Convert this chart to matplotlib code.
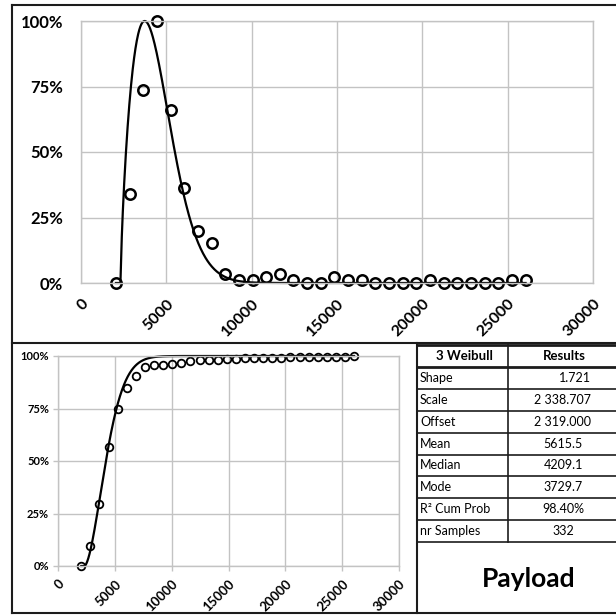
import numpy as np
import matplotlib.pyplot as plt
from matplotlib.lines import Line2D
from matplotlib.ticker import PercentFormatter

W, H = 616, 615
plt.rcParams['font.family'] = ['Lato', 'DejaVu Sans']

# 3-parameter Weibull fit
SHAPE = 1.721
SCALE = 2338.707
OFFSET = 2319.0

bins = [2050, 2850, 3650, 4450, 5250, 6050, 6850, 7650, 8450, 9250,
        10050, 10850, 11650, 12450, 13250, 14050, 14850, 15650, 16450, 17250,
        18050, 18850, 19650, 20450, 21250, 22050, 22850, 23650, 24450, 25250,
        26050]
# frequency relative to the largest bin (%)
freq = [0, 34.1, 73.6, 100, 65.9, 36.3, 19.8, 15.4, 3.3, 1.1,
        1.1, 2.2, 3.3, 1.1, 0, 0, 2.2, 1.1, 1.1, 0,
        0, 0, 0, 1.1, 0, 0, 0, 0, 0, 1.1,
        1.1]
# cumulative probability (%)
cum = [0, 9.3, 29.5, 56.9, 75.0, 84.9, 90.4, 94.6, 95.5, 95.8,
       96.1, 96.7, 97.6, 97.9, 97.9, 97.9, 98.5, 98.8, 99.1, 99.1,
       99.1, 99.1, 99.1, 99.4, 99.4, 99.4, 99.4, 99.4, 99.4, 99.7,
       100]

xticks = [0, 5000, 10000, 15000, 20000, 25000, 30000]
yticks = [0, 25, 50, 75, 100]

stat_names = ["Shape", "Scale", "Offset", "Mean", "Median", "Mode",
              "R² Cum Prob", "nr Samples"]
stat_values = [f"{SHAPE:.3f}", f"{SCALE:,.3f}".replace(",", " "),
               f"{OFFSET:,.3f}".replace(",", " "), "5615.5", "4209.1",
               "3729.7", "98.40%", "332"]

GRID = '#c3c3c3'
INK = '#1c1c1c'


def px(x, y):
    return x / W, 1 - y / H


def weibull(x):
    z = np.clip((x - OFFSET) / SCALE, 0, None)
    pdf = z ** (SHAPE - 1) * np.exp(-z ** SHAPE)
    zm = ((SHAPE - 1) / SHAPE) ** (1 / SHAPE)
    peak = zm ** (SHAPE - 1) * np.exp(-zm ** SHAPE)
    return 100 * pdf / peak, 100 * (1 - np.exp(-z ** SHAPE))


def style_axes(ax, xsize, ysize, ticklen, xpad, ypad):
    ax.set_xlim(0, 30000)
    ax.set_ylim(0, 100)
    ax.set_xticks(xticks)
    ax.set_yticks(yticks)
    ax.yaxis.set_major_formatter(PercentFormatter(decimals=0))
    ax.grid(True, color=GRID, linewidth=1.0)
    ax.set_axisbelow(True)
    for s in ax.spines.values():
        s.set_color(GRID)
        s.set_linewidth(1.0)
    ax.tick_params(axis='both', length=ticklen, color=GRID, width=1.0)
    ax.tick_params(axis='x', pad=xpad, labelsize=xsize)
    ax.tick_params(axis='y', pad=ypad, labelsize=ysize)
    for lab in ax.get_xticklabels():
        lab.set_rotation(45)
        lab.set_ha('right')
        lab.set_rotation_mode('anchor')
        lab.set_fontweight('bold')
    for lab in ax.get_yticklabels():
        lab.set_fontweight('bold')


def hline(y, x0, x1, lw):
    a, b = px(x0, y), px(x1, y)
    fig.add_artist(Line2D([a[0], b[0]], [a[1], b[1]], color=INK, linewidth=lw))


def vline(x, y0, y1, lw):
    a, b = px(x, y0), px(x, y1)
    fig.add_artist(Line2D([a[0], b[0]], [a[1], b[1]], color=INK, linewidth=lw))


fig = plt.figure(figsize=(W / 100, H / 100), dpi=100)

xs = np.linspace(bins[0], bins[-1], 1200)
pdf_fit, cdf_fit = weibull(xs)

# probability density, scaled to the peak
ax1 = fig.add_axes([81 / W, 1 - 283 / H, 512 / W, 262 / H])
ax1.plot(xs, pdf_fit, color='black', linewidth=1.6, clip_on=False)
ax1.plot(bins, freq, linestyle='none', marker='o', markersize=7.5,
         markerfacecolor='none', markeredgecolor='black',
         markeredgewidth=1.8, clip_on=False)
style_axes(ax1, 11.5, 12, 0, 10, 13)

# cumulative probability
ax2 = fig.add_axes([58 / W, 1 - 566 / H, 341 / W, 210 / H])
ax2.plot(xs, cdf_fit, color='black', linewidth=1.6, clip_on=False)
ax2.plot(bins, cum, linestyle='none', marker='o', markersize=5.5,
         markerfacecolor='none', markeredgecolor='black',
         markeredgewidth=1.3, clip_on=False)
style_axes(ax2, 9.5, 8, 3.5, 5, 3)

# panel frame
hline(5, 12, 616, 1.5)
hline(343, 12, 616, 1.5)
hline(613, 12, 616, 1.5)
vline(12, 5, 613, 1.5)
vline(417, 343, 613, 1.5)

# statistics table
row_top = 345.0
row_h = 21.9
n_rows = len(stat_names) + 1
for i in range(n_rows + 1):
    hline(row_top + i * row_h, 417, 616, 2.0 if i < 2 else 1.2)
vline(508, row_top, row_top + n_rows * row_h, 1.2)

hy = row_top + row_h / 2
fig.text(*px(464, hy), "3 Weibull", ha='center', va='center',
         fontsize=9.5, fontweight='bold')
fig.text(*px(564, hy), "Results", ha='center', va='center',
         fontsize=9.5, fontweight='bold')
for i, (name, val) in enumerate(zip(stat_names, stat_values)):
    y = row_top + (i + 1.5) * row_h
    fig.text(*px(420, y), name, ha='left', va='center', fontsize=9)
    if i == 0:
        fig.text(*px(591, y), val, ha='right', va='center', fontsize=9)
    else:
        fig.text(*px(563, y), val, ha='center', va='center', fontsize=9)

fig.text(*px(529, 579), "Payload", ha='center', va='center',
         fontsize=19, fontweight='bold')

fig.savefig('out.png', dpi=100)
